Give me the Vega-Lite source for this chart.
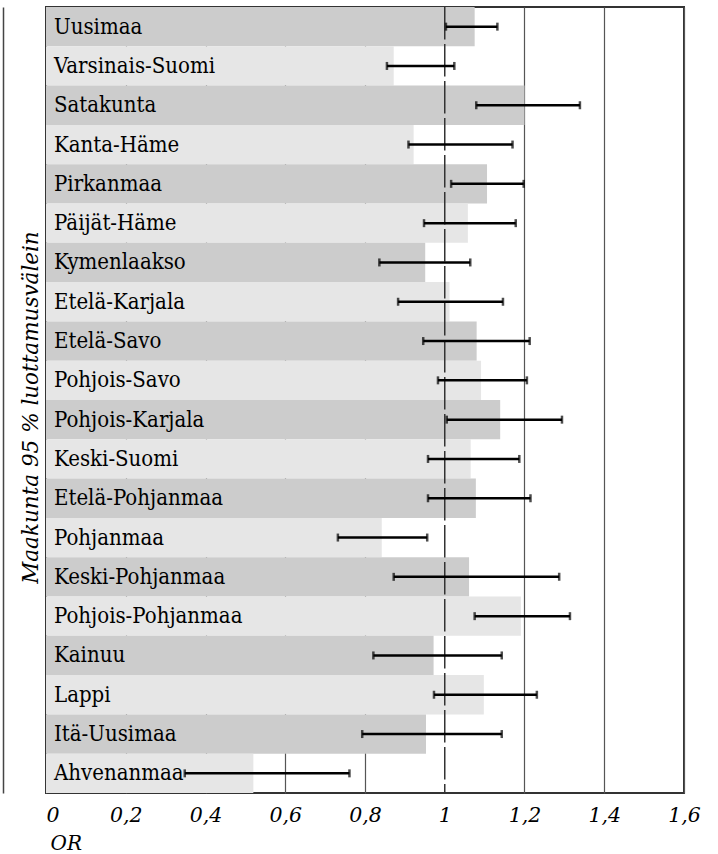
{
  "$schema": "https://vega.github.io/schema/vega-lite/v6.json",
  "width": 638,
  "height": 786,
  "autosize": {"type": "none"},
  "padding": {"left": 46, "top": 7, "right": 34, "bottom": 61},
  "background": "white",
  "config": {"view": {"stroke": "#333333", "strokeWidth": 2}, "font": "DejaVu Serif"},
  "data": {"values": [
    {"name": "Uusimaa", "or": 1.075, "lo": 1.003, "hi": 1.132},
    {"name": "Varsinais-Suomi", "or": 0.872, "lo": 0.855, "hi": 1.024},
    {"name": "Satakunta", "or": 1.200, "lo": 1.079, "hi": 1.339},
    {"name": "Kanta-Häme", "or": 0.922, "lo": 0.909, "hi": 1.170},
    {"name": "Pirkanmaa", "or": 1.106, "lo": 1.016, "hi": 1.198},
    {"name": "Päijät-Häme", "or": 1.058, "lo": 0.948, "hi": 1.178},
    {"name": "Kymenlaakso", "or": 0.951, "lo": 0.836, "hi": 1.064},
    {"name": "Etelä-Karjala", "or": 1.012, "lo": 0.883, "hi": 1.146},
    {"name": "Etelä-Savo", "or": 1.080, "lo": 0.946, "hi": 1.213},
    {"name": "Pohjois-Savo", "or": 1.091, "lo": 0.983, "hi": 1.206},
    {"name": "Pohjois-Karjala", "or": 1.139, "lo": 1.005, "hi": 1.294},
    {"name": "Keski-Suomi", "or": 1.065, "lo": 0.958, "hi": 1.187},
    {"name": "Etelä-Pohjanmaa", "or": 1.078, "lo": 0.958, "hi": 1.215},
    {"name": "Pohjanmaa", "or": 0.842, "lo": 0.732, "hi": 0.956},
    {"name": "Keski-Pohjanmaa", "or": 1.061, "lo": 0.872, "hi": 1.287},
    {"name": "Pohjois-Pohjanmaa", "or": 1.191, "lo": 1.075, "hi": 1.314},
    {"name": "Kainuu", "or": 0.972, "lo": 0.821, "hi": 1.143},
    {"name": "Lappi", "or": 1.098, "lo": 0.973, "hi": 1.231},
    {"name": "Itä-Uusimaa", "or": 0.953, "lo": 0.793, "hi": 1.143},
    {"name": "Ahvenanmaa", "or": 0.520, "lo": 0.348, "hi": 0.761}
  ]},
  "transform": [{"window": [{"op": "row_number", "as": "rn"}]}],
  "layer": [
    {
      "mark": {"type": "bar"},
      "encoding": {
        "y": {
          "field": "name", "type": "nominal", "sort": null,
          "scale": {"paddingInner": 0, "paddingOuter": 0},
          "axis": {
            "title": "Maakunta 95 % luottamusvälein",
            "labels": false, "ticks": false, "grid": false,
            "domain": true, "domainColor": "#444444", "domainWidth": 1.5,
            "offset": 43,
            "titleFont": "DejaVu Serif", "titleFontStyle": "italic",
            "titleFontSize": 21.5, "titleFontWeight": "normal", "titleColor": "black",
            "titleBaseline": "alphabetic", "titleAlign": "center",
            "titleX": 34.5, "titleY": 400
          }
        },
        "x": {
          "field": "or", "type": "quantitative",
          "scale": {"domain": [0, 1.6], "nice": false, "zero": true},
          "axis": {
            "title": "OR",
            "values": [0, 0.2, 0.4, 0.6, 0.8, 1, 1.2, 1.4, 1.6],
            "labelExpr": "replace(format(datum.value, '~g'), '.', ',')",
            "labelFont": "DejaVu Serif", "labelFontStyle": "italic",
            "labelFontSize": 20.5, "labelColor": "black", "labelPadding": 12,
            "labelAlign": {"condition": {"test": "datum.value == 0", "value": "left"}, "value": "center"},
            "labelFlush": false, "labelOverlap": false,
            "ticks": false, "tickSize": 0, "domain": false,
            "grid": true, "gridColor": "#555555", "gridWidth": 1.2,
            "gridOpacity": {"condition": {"test": "datum.value == 1", "value": 0}, "value": 1},
            "titleFont": "DejaVu Serif", "titleFontStyle": "italic",
            "titleFontSize": 20, "titleFontWeight": "normal", "titleColor": "black",
            "titleAnchor": "start", "titleAlign": "left", "titleBaseline": "alphabetic",
            "titleX": 4, "titleY": 56
          }
        },
        "color": {"condition": {"test": "datum.rn % 2 == 1", "value": "#cccccc"}, "value": "#e6e6e6"}
      }
    },
    {
      "data": {"values": [{"ref": 1}]},
      "mark": {"type": "rule", "strokeDash": [32.5, 4.5], "color": "#333333", "strokeWidth": 1.5},
      "encoding": {"x": {"field": "ref", "type": "quantitative", "title": "OR"}}
    },
    {
      "mark": {"type": "text", "align": "left", "baseline": "middle", "dx": 8, "fontSize": 22, "font": "DejaVu Serif Condensed", "color": "black"},
      "encoding": {
        "y": {"field": "name", "type": "nominal", "sort": null, "title": "Maakunta 95 % luottamusvälein"},
        "x": {"datum": 0, "type": "quantitative", "title": "OR"},
        "text": {"field": "name"}
      }
    },
    {
      "mark": {"type": "errorbar", "ticks": true, "size": 8, "thickness": 2.5, "color": "black"},
      "encoding": {
        "y": {"field": "name", "type": "nominal", "sort": null, "title": "Maakunta 95 % luottamusvälein"},
        "x": {"field": "lo", "type": "quantitative", "title": "OR"},
        "x2": {"field": "hi"}
      }
    }
  ]
}
